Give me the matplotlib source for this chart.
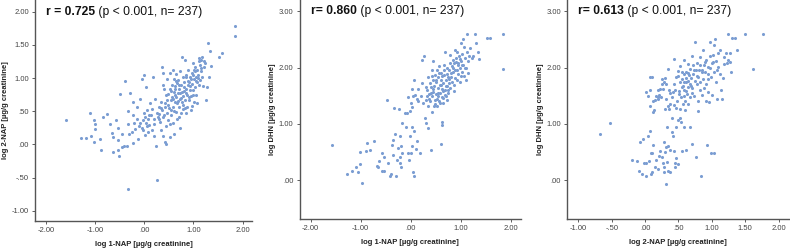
import numpy as np
import matplotlib
matplotlib.use('Agg')
import matplotlib.pyplot as plt

plt.rcParams['font.family'] = ['Liberation Sans', 'DejaVu Sans']

# panel 1: log 1-NAP vs log 2-NAP
p1 = [(-1.58, 0.37), (-1.29, 0.09), (-1.18, 0.10), (-1.08, 0.12), (-1.11, 0.47), (-1.03, 0.37),
      (-1.00, 0.31), (-1.01, 0.23), (-1.02, 0.03), (-0.89, 0.08), (-0.88, -0.08), (-0.83, 0.41),
      (-0.75, 0.46), (-0.69, 0.31), (-0.65, 0.17), (-0.64, 0.11), (-0.64, -0.11), (-0.57, 0.36),
      (-0.54, 0.24), (-0.54, 0.07), (-0.53, -0.08), (-0.52, -0.18), (-0.49, 0.76), (-0.45, 0.16),
      (-0.45, -0.04), (-0.41, -0.02), (-0.40, 0.95), (-0.35, -0.03), (-0.33, 0.31), (-0.33, 0.51),
      (-0.32, -0.67), (-0.30, 0.15), (-0.29, 0.77), (-0.25, 0.19), (-0.23, 0.64), (-0.22, 0.02),
      (-0.22, 0.44), (-0.20, 0.32), (-0.19, 0.23), (-0.15, 0.38), (-0.14, 0.56), (-0.12, 0.08),
      (-0.09, 0.69), (-0.08, 0.32), (-0.05, 0.25), (-0.05, 0.99), (-0.03, 0.21), (-0.01, 1.05),
      (0.00, 0.47), (0.01, 0.42), (0.02, 0.14), (0.03, 0.32), (0.04, 0.86), (0.05, 0.27),
      (0.05, 0.52), (0.07, 0.39), (0.07, 0.19), (0.09, 0.29), (0.11, 0.62), (0.14, 0.44),
      (0.16, 0.54), (0.18, 1.01), (0.19, 0.39), (0.20, 0.12), (0.22, 0.68), (0.24, -0.02),
      (0.26, -0.54), (0.28, 0.41), (0.29, 0.57), (0.31, 0.46), (0.33, 0.34), (0.34, 0.22),
      (0.35, 0.64), (0.37, 0.52), (0.37, 1.17), (0.38, 1.08), (0.39, 0.12), (0.39, 0.42),
      (0.41, 0.84), (0.43, 0.57), (0.43, 0.04), (0.44, 0.01), (0.45, 0.27), (0.46, 0.67),
      (0.46, 0.47), (0.47, 0.99), (0.48, 0.76), (0.49, 0.59), (0.49, 0.37), (0.52, 0.83),
      (0.53, 1.07), (0.53, 0.11), (0.54, 0.52), (0.54, 0.67), (0.55, 0.44), (0.56, 0.72),
      (0.57, 0.89), (0.58, 1.12), (0.58, 0.57), (0.59, 0.32), (0.60, 0.15), (0.60, 0.79),
      (0.61, 0.98), (0.62, 0.64), (0.63, 0.84), (0.64, 0.49), (0.64, 0.72), (0.65, 1.06),
      (0.66, 0.92), (0.66, 0.38), (0.67, 0.62), (0.68, 0.77), (0.69, 0.97), (0.70, 0.57),
      (0.71, 0.84), (0.72, 0.69), (0.73, 1.10), (0.73, 0.24), (0.74, 0.47), (0.75, 0.89),
      (0.76, 0.79), (0.77, 0.64), (0.77, 1.31), (0.78, 1.02), (0.79, 0.73), (0.79, 0.54),
      (0.80, 0.87), (0.81, 0.94), (0.82, 1.27), (0.83, 0.67), (0.84, 0.83), (0.85, 0.47),
      (0.85, 1.01), (0.86, 0.74), (0.87, 0.57), (0.88, 0.89), (0.89, 1.12), (0.90, 0.94),
      (0.91, 0.67), (0.92, 0.82), (0.94, 1.01), (0.95, 0.52), (0.96, 0.73), (0.97, 0.91),
      (0.98, 0.58), (0.99, 1.22), (1.00, 0.82), (1.00, 1.05), (1.01, 0.98), (1.02, 0.64),
      (1.03, 1.10), (1.04, 0.87), (1.04, 1.17), (1.05, 0.74), (1.06, 1.01), (1.07, 0.94),
      (1.08, 1.12), (1.08, 0.63), (1.10, 1.05), (1.11, 1.25), (1.11, 1.30), (1.12, 0.89),
      (1.13, 0.97), (1.14, 1.20), (1.15, 1.27), (1.16, 1.10), (1.17, 1.31), (1.18, 1.02),
      (1.19, 0.88), (1.21, 1.17), (1.22, 1.26), (1.24, 1.22), (1.26, 0.67), (1.27, 0.87),
      (1.29, 1.53), (1.31, 1.02), (1.33, 1.40), (1.36, 1.18), (1.52, 1.31), (1.58, 1.37),
      (1.85, 1.78), (1.85, 1.64),
      (0.35, 0.55), (0.42, 0.62), (0.50, 0.55), (0.58, 0.68), (0.62, 0.75), (0.68, 0.65),
      (0.72, 0.78), (0.75, 0.70), (0.80, 0.80), (0.85, 0.78), (0.88, 0.95), (0.92, 0.88),
      (0.95, 0.98), (0.98, 1.08), (1.02, 1.12), (1.05, 0.95), (1.10, 1.00), (1.15, 1.15),
      (0.70, 0.90), (0.65, 0.95), (0.55, 0.80), (0.45, 0.75), (0.40, 0.45), (0.30, 0.38),
      (0.25, 0.48), (0.20, 0.30), (0.15, 0.22), (0.10, 0.45), (0.60, 0.50), (0.78, 0.60),
      (0.82, 0.55), (0.90, 0.72), (1.00, 0.75), (0.70, 0.42), (0.52, 0.30), (0.38, 0.90),
      (0.62, 0.88), (0.85, 1.05), (-0.10, 0.28), (-0.02, 0.36)]

# panel 2: log 1-NAP vs log DHN
p2 = [(-1.58, 0.62), (-1.27, 0.12), (-1.17, 0.16), (-1.10, 0.24), (-1.05, 0.15), (-1.01, 0.29),
      (-1.01, 0.51), (-0.98, -0.05), (-0.89, 0.52), (-0.88, 0.67), (-0.81, 0.54), (-0.73, 0.69),
      (-0.68, 0.25), (-0.65, 0.24), (-0.63, 0.34), (-0.57, 0.48), (-0.57, 0.17), (-0.53, 0.17),
      (-0.53, 0.42), (-0.47, 1.43), (-0.45, 0.30), (-0.41, 0.07), (-0.39, 0.11), (-0.38, 0.63),
      (-0.35, 0.72), (-0.33, 1.28), (-0.31, 0.83), (-0.30, 0.08), (-0.28, 0.36), (-0.26, 0.57),
      (-0.23, 1.27), (-0.22, 0.79), (-0.22, 0.31), (-0.21, 0.42), (-0.19, 0.24), (-0.18, 0.49),
      (-0.17, 1.02), (-0.11, 1.19), (-0.08, 1.19), (-0.05, 0.49), (-0.05, 1.47), (-0.03, 0.36),
      (-0.02, 0.79), (-0.01, 1.23), (0.00, 0.49), (0.01, 1.37), (0.02, 0.95), (0.02, 1.62),
      (0.03, 0.60), (0.04, 1.49), (0.05, 0.14), (0.07, 0.07), (0.07, 0.88), (0.07, 1.78),
      (0.09, 1.51), (0.10, 0.55), (0.12, 0.69), (0.14, 1.62), (0.15, 1.40), (0.19, 0.49),
      (0.22, 2.14), (0.23, 1.72), (0.26, 2.20), (0.29, 1.10), (0.30, 1.43), (0.31, 1.02),
      (0.32, 1.49), (0.33, 1.60), (0.34, 0.92), (0.35, 1.84), (0.35, 1.31), (0.37, 1.53),
      (0.38, 1.73), (0.39, 1.40), (0.40, 1.65), (0.41, 0.54), (0.42, 1.96), (0.42, 1.49),
      (0.43, 1.22), (0.44, 1.78), (0.45, 2.11), (0.45, 1.57), (0.47, 1.32), (0.47, 1.67),
      (0.49, 1.87), (0.49, 1.43), (0.50, 1.53), (0.51, 1.75), (0.52, 1.95), (0.53, 1.32),
      (0.54, 1.63), (0.55, 1.49), (0.55, 1.83), (0.57, 2.02), (0.57, 1.40), (0.58, 1.69),
      (0.59, 1.55), (0.60, 1.91), (0.61, 0.64), (0.61, 1.78), (0.62, 1.62), (0.63, 1.04),
      (0.63, 0.98), (0.64, 1.46), (0.65, 1.72), (0.65, 1.37), (0.67, 1.87), (0.67, 2.05),
      (0.69, 1.60), (0.69, 2.28), (0.70, 1.49), (0.71, 1.78), (0.72, 1.99), (0.73, 1.67),
      (0.73, 1.43), (0.74, 1.83), (0.75, 1.55), (0.77, 1.95), (0.77, 1.73), (0.79, 2.08),
      (0.79, 1.63), (0.81, 1.83), (0.82, 2.02), (0.83, 1.75), (0.84, 2.14), (0.85, 1.93),
      (0.87, 1.69), (0.87, 2.08), (0.89, 2.31), (0.89, 1.82), (0.91, 2.17), (0.92, 1.96),
      (0.93, 1.78), (0.94, 2.09), (0.95, 1.89), (0.97, 2.20), (0.98, 1.99), (0.99, 1.75),
      (1.00, 2.11), (1.01, 2.44), (1.02, 1.93), (1.03, 2.25), (1.05, 2.50), (1.05, 2.05),
      (1.06, 2.37), (1.07, 1.85), (1.09, 2.17), (1.10, 1.78), (1.11, 1.99), (1.12, 2.60),
      (1.13, 2.28), (1.14, 2.11), (1.15, 1.91), (1.17, 2.20), (1.19, 2.34), (1.22, 2.17),
      (1.25, 2.20), (1.29, 2.60), (1.30, 2.43), (1.34, 2.28), (1.37, 2.15), (1.52, 2.52),
      (1.59, 2.52), (1.85, 2.60), (1.85, 1.98),
      (0.45, 1.62), (0.50, 1.78), (0.55, 1.55), (0.60, 1.70), (0.62, 1.85), (0.66, 1.95),
      (0.70, 1.68), (0.72, 1.88), (0.76, 1.80), (0.80, 1.90), (0.84, 2.00), (0.88, 1.95),
      (0.90, 2.10), (0.95, 2.05), (0.98, 2.15), (1.02, 2.05), (1.08, 2.00), (0.52, 1.45),
      (0.58, 1.38), (0.64, 1.58), (0.68, 1.52), (0.74, 1.60), (0.40, 1.55), (0.36, 1.45),
      (0.30, 1.65), (0.25, 1.38), (0.48, 1.35), (0.56, 1.90), (0.78, 2.22), (0.92, 2.28),
      (1.00, 1.85), (0.86, 1.58), (0.62, 1.48), (0.42, 1.85), (0.20, 1.50), (0.12, 1.45),
      (0.02, 1.30), (-0.10, 0.95), (-0.20, 0.60), (-0.35, 0.45)]

# panel 3: log 2-NAP vs log DHN
p3 = [(-0.67, 0.82), (-0.53, 1.01), (-0.19, 0.36), (-0.12, 0.34), (-0.09, 0.17), (-0.08, 0.67),
      (-0.04, 0.11), (-0.03, 0.73), (-0.02, 0.30), (0.01, 1.57), (0.01, 0.08), (0.02, 0.30),
      (0.04, 1.49), (0.05, 0.79), (0.06, 0.34), (0.07, 1.83), (0.07, 1.60), (0.08, 0.87),
      (0.08, 1.31), (0.09, 0.49), (0.09, 0.11), (0.10, 0.15), (0.10, 1.83), (0.11, 0.48),
      (0.12, 1.40), (0.12, 1.21), (0.14, 1.25), (0.15, 0.24), (0.16, 0.36), (0.17, 1.50),
      (0.19, 1.44), (0.20, 1.47), (0.21, 1.52), (0.21, 0.43), (0.22, 1.62), (0.23, 0.51),
      (0.24, 1.47), (0.25, 1.71), (0.26, 1.80), (0.27, 0.31), (0.27, 1.62), (0.28, 0.67),
      (0.28, 0.24), (0.29, 0.15), (0.30, 1.27), (0.30, 1.82), (0.31, 0.58), (0.32, 1.71),
      (0.32, -0.06), (0.33, 0.33), (0.33, 0.95), (0.34, 1.98), (0.34, 1.31), (0.35, 0.61),
      (0.35, 0.17), (0.36, 1.27), (0.36, 1.60), (0.37, 0.14), (0.38, 1.36), (0.38, 0.53),
      (0.40, 1.11), (0.41, 1.47), (0.42, 0.79), (0.42, 1.56), (0.43, 1.34), (0.43, 0.52),
      (0.44, 2.16), (0.44, 1.71), (0.45, 0.24), (0.46, 1.28), (0.46, 0.94), (0.47, 1.83),
      (0.47, 0.40), (0.48, 1.41), (0.49, 1.94), (0.49, 1.06), (0.50, 0.29), (0.51, 1.59),
      (0.51, 1.53), (0.52, 1.74), (0.52, 1.27), (0.53, 2.02), (0.54, 1.03), (0.54, 1.47),
      (0.55, 1.92), (0.55, 1.80), (0.55, 0.52), (0.57, 1.68), (0.57, 1.35), (0.58, 0.94),
      (0.58, 1.88), (0.59, 1.60), (0.59, 2.14), (0.59, 1.74), (0.60, 1.41), (0.61, 1.82),
      (0.61, 1.59), (0.62, 0.53), (0.62, 1.92), (0.63, 1.53), (0.64, 1.77), (0.64, 2.07),
      (0.65, 1.66), (0.65, 1.35), (0.66, 1.86), (0.67, 1.47), (0.67, 1.98), (0.68, 0.94),
      (0.69, 1.82), (0.69, 1.68), (0.70, 2.20), (0.71, 0.64), (0.71, 1.64), (0.72, 1.88),
      (0.72, 2.04), (0.73, 1.50), (0.75, 1.77), (0.75, 2.45), (0.76, 0.42), (0.76, 1.95),
      (0.78, 1.70), (0.78, 2.08), (0.79, 1.41), (0.80, 1.83), (0.80, 1.22), (0.81, 1.95),
      (0.82, 1.60), (0.83, 1.74), (0.83, 2.19), (0.84, 0.08), (0.85, 1.92), (0.86, 1.52),
      (0.87, 1.80), (0.87, 2.31), (0.88, 1.64), (0.89, 2.04), (0.90, 1.92), (0.91, 1.41),
      (0.92, 2.14), (0.92, 1.71), (0.93, 0.63), (0.94, 1.88), (0.94, 1.56), (0.95, 2.01),
      (0.96, 1.39), (0.97, 2.20), (0.98, 2.45), (0.99, 1.84), (0.99, 0.49), (1.00, 2.08),
      (1.01, 1.52), (1.02, 2.22), (1.03, 1.92), (1.03, 0.49), (1.04, 2.40), (1.05, 2.50),
      (1.06, 1.74), (1.07, 2.12), (1.08, 1.44), (1.09, 2.01), (1.10, 2.25), (1.12, 1.89),
      (1.13, 2.31), (1.14, 1.60), (1.16, 1.44), (1.17, 1.82), (1.18, 2.07), (1.19, 2.19),
      (1.22, 2.25), (1.23, 2.08), (1.24, 2.59), (1.25, 2.14), (1.27, 2.25), (1.28, 2.10),
      (1.29, 1.92), (1.30, 2.53), (1.35, 2.53), (1.38, 2.31), (1.50, 2.59), (1.62, 1.98),
      (1.76, 2.59),
      (0.45, 1.60), (0.50, 1.85), (0.55, 1.65), (0.58, 1.50), (0.62, 1.75), (0.65, 1.90),
      (0.68, 1.70), (0.70, 1.55), (0.74, 1.95), (0.78, 1.85), (0.82, 2.05), (0.86, 1.95),
      (0.90, 2.10), (0.95, 1.80), (0.98, 2.00), (1.02, 2.10), (1.08, 1.95), (0.38, 1.55),
      (0.32, 1.45), (0.28, 1.75), (0.20, 1.60), (0.15, 1.42), (0.52, 1.10), (0.60, 1.25),
      (0.40, 0.85), (0.30, 0.50), (0.20, 0.20), (0.45, 0.30), (0.25, 0.42), (0.12, 0.62)]

titles_bold = ['r = 0.725', 'r= 0.860', 'r= 0.613']
title_rest = ' (p < 0.001, n= 237)'
xlabels = ['log 1-NAP [\u00b5g/g creatinine]', 'log 1-NAP [\u00b5g/g creatinine]',
           'log 2-NAP [\u00b5g/g creatinine]']
ylabels = ['log 2-NAP [\u00b5g/g creatinine]', 'log DHN [\u00b5g/g creatinine]',
           'log DHN [\u00b5g/g creatinine]']
xticks = [[-2, -1, 0, 1, 2], [-2, -1, 0, 1, 2], [-1, -0.5, 0, 0.5, 1, 1.5, 2]]
yticks = [[-1, -0.5, 0, 0.5, 1, 1.5, 2], [0, 1, 2, 3], [0, 1, 2, 3]]
xlims = [(-2.22, 2.19), (-2.22, 2.21), (-1.165, 2.16)]
ylims = [(-1.155, 2.176), (-0.687, 3.2), (-0.69, 3.2)]
boxes = [[0.0443, 0.1124, 0.2747, 0.8876],
         [0.3794, 0.1205, 0.2801, 0.8795],
         [0.7181, 0.1205, 0.2809, 0.8795]]


def spss_fmt(v, pos=None):
    s = '%.2f' % v
    if s.startswith('0.'):
        s = s[1:]
    elif s.startswith('-0.'):
        s = '-' + s[2:]
    return s


fig = plt.figure(figsize=(7.9, 2.49), dpi=100)
marker_col = '#7b9dd2'

for i, pts in enumerate([p1, p2, p3]):
    ax = fig.add_axes(boxes[i])
    xs = [p[0] for p in pts]
    ys = [p[1] for p in pts]
    ax.scatter(xs, ys, s=5, color=marker_col, linewidths=0, zorder=3)
    ax.set_xlim(xlims[i])
    ax.set_ylim(ylims[i])
    ax.set_xticks(xticks[i])
    ax.set_yticks(yticks[i])
    ax.xaxis.set_major_formatter(plt.FuncFormatter(spss_fmt))
    ax.yaxis.set_major_formatter(plt.FuncFormatter(spss_fmt))
    ax.tick_params(labelsize=5.5, length=2.5, width=0.6, colors='#444444', pad=2)
    for side in ['top', 'right']:
        ax.spines[side].set_visible(False)
    for side in ['left', 'bottom']:
        ax.spines[side].set_color('#555555')
        ax.spines[side].set_linewidth(1.0)
    ax.set_xlabel(xlabels[i], fontsize=5.5, fontweight='bold', color='#222222', labelpad=5)
    ax.set_ylabel(ylabels[i], fontsize=5.5, fontweight='bold', color='#222222', labelpad=2)
    ax.patch.set_alpha(0)

    t = ax.text(0.05, 0.975, titles_bold[i], transform=ax.transAxes, fontsize=8.7,
                fontweight='bold', va='top', ha='left', color='#111111')
    ax.annotate(title_rest, xy=(1, 0), xycoords=t, va='bottom', ha='left',
                fontsize=8.7, color='#111111')

fig.savefig('out.png', dpi=100)
